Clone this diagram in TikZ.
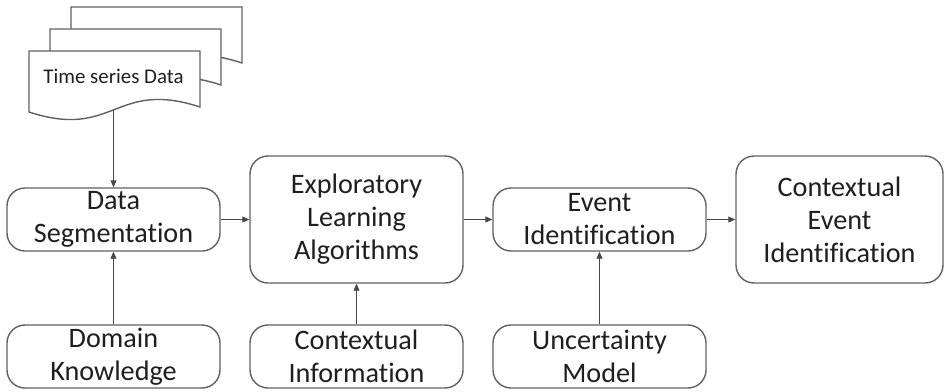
\documentclass[tikz,border=0pt]{standalone}
\usepackage{fontspec}
\setmainfont{Carlito}[Ligatures=NoCommon]
\usetikzlibrary{arrows.meta}
\begin{document}
\begin{tikzpicture}[x=1pt,y=-1pt,
  box/.style={draw=black!62, line width=1.4pt, rounded corners=18pt, fill=white,
    inner sep=0pt, align=center, font=\fontsize{28.2}{33}\selectfont, text=black!88},
  smallbox/.style={box, minimum width=213pt, minimum height=63pt},
  bigbox/.style={box, minimum height=127pt},
  conn/.style={draw=black!72, line width=0.9pt, -{Triangle[length=7pt,width=6pt]}},
  docshape/.style={draw=black!62, line width=1.4pt, fill=white}]
\useasboundingbox (0,0) rectangle (945,391);
% document stack
\foreach \dx/\dy in {42/-44, 21/-22, 0/0} {
  \draw[docshape, shift={(\dx,\dy)}] (29,112) -- (29,51) -- (200,51) -- (200,107)
    .. controls (114.5,79) and (114.5,140) .. (29,112) -- cycle;
}
\node[font=\fontsize{20.9}{25}\selectfont, text=black!88] (tsd) at (113.5,76) {Time series Data};
\coordinate (docb) at (113.5,110);
% boxes
\node[smallbox] (ds) at (113.5,219.5) {Data\\Segmentation};
\node[bigbox, minimum width=213pt] (ela) at (356.5,219.5) {Exploratory\\Learning\\Algorithms};
\node[smallbox] (ei) at (599.5,219.5) {Event\\Identification};
\node[bigbox, minimum width=207pt] (cei) at (839.5,219.5) {Contextual\\Event\\Identification};
\node[smallbox] (dk) at (113.5,356.5) {Domain\\Knowledge};
\node[smallbox] (ci) at (356.5,356.5) {Contextual\\Information};
\node[smallbox] (um) at (599.5,356.5) {Uncertainty\\Model};
% connectors
\draw[conn] (docb) -- (ds.north);
\draw[conn] (ds.east) -- (ela.west);
\draw[conn] (ela.east) -- (ei.west);
\draw[conn] (ei.east) -- (cei.west);
\draw[conn] (dk.north) -- (ds.south);
\draw[conn] (ci.north) -- (ela.south);
\draw[conn] (um.north) -- (ei.south);
\end{tikzpicture}
\end{document}
